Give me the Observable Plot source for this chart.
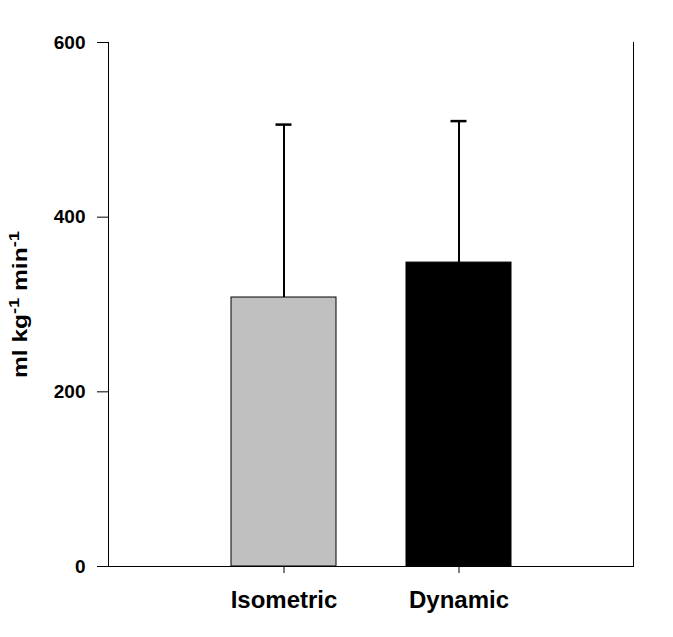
<!DOCTYPE html>
<html>
<head>
<meta charset="utf-8">
<script src="https://cdn.jsdelivr.net/npm/d3@7"></script>
<script src="https://cdn.jsdelivr.net/npm/@observablehq/plot@0.6"></script>
<style>
  body { margin: 0; background: #fff; }
  svg { font-family: "Liberation Sans", Arial, sans-serif; }
</style>
</head>
<body>
<div id="chart"></div>
<script>
const categories = ["Isometric", "Dynamic"];
const means = [308, 348];
const errTops = [506, 510];
const fills = ["#c0c0c0", "#000000"];
const yTicks = [0, 200, 400, 600];
const yLabel = "ml kg-1 min-1";

const data = categories.map((c, i) => ({cat: c, mean: means[i], top: errTops[i], fill: fills[i]}));

const chart = Plot.plot({
  width: 673,
  height: 637,
  marginLeft: 108,
  marginRight: 40,
  marginTop: 42,
  marginBottom: 71,
  style: {fontFamily: '"Liberation Sans", Arial, sans-serif', background: "#fff"},
  x: {domain: categories, paddingInner: 0.4, paddingOuter: 0.7, label: null},
  y: {domain: [0, 600], label: null},
  marks: [
    Plot.barY(data, {x: "cat", y: "mean", fill: "fill", stroke: "#000", strokeWidth: 1}),
    Plot.ruleX(data, {x: "cat", y1: "mean", y2: "top", stroke: "#000", strokeWidth: 2}),
    Plot.tickY(data, {x: "cat", y: "top", stroke: "#000", strokeWidth: 2.5, insetLeft: 44.5, insetRight: 44.5}),
    Plot.frame({anchor: "left", stroke: "#000", strokeWidth: 1}),
    Plot.frame({anchor: "right", stroke: "#000", strokeWidth: 1}),
    Plot.frame({anchor: "bottom", stroke: "#000", strokeWidth: 1}),
    Plot.axisY({ticks: yTicks, tickSize: 11, tickPadding: 12, fontSize: 19, fontWeight: "bold", label: null}),
    Plot.axisX({tickSize: 7, tickPadding: 17, fontSize: 24, fontWeight: "bold", label: null}),
    Plot.text([yLabel], {text: d => d, frameAnchor: "left", textAnchor: "middle", dx: -88, rotate: -90, fontSize: 20, fontWeight: "bold"})
  ]
});

// superscripts for the unit label, stretched like the reference
chart.querySelectorAll("text").forEach(t => {
  if (t.textContent === yLabel) {
    t.textContent = "";
    const parts = [["ml kg", false], ["-1", true], [" min", false], ["-1", true]];
    const ns = "http://www.w3.org/2000/svg";
    parts.forEach(([s, sup]) => {
      const ts = document.createElementNS(ns, "tspan");
      ts.textContent = s;
      if (sup) { ts.setAttribute("baseline-shift", "super"); ts.setAttribute("font-size", "15"); }
      t.appendChild(ts);
    });
    t.setAttribute("textLength", "147");
    t.setAttribute("lengthAdjust", "spacingAndGlyphs");
  }
});

document.getElementById("chart").appendChild(chart);
</script>
</body>
</html>
